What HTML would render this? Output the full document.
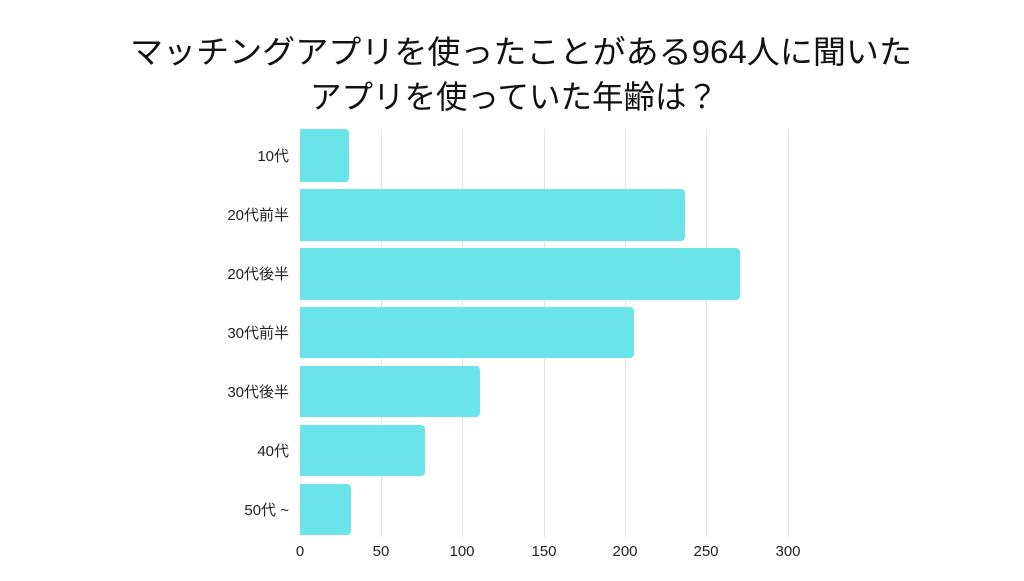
<!DOCTYPE html>
<html><head><meta charset="utf-8"><style>
body{margin:0;background:#fff;}
svg text{font-family:"Liberation Sans","Noto Sans CJK JP",sans-serif;}
</style></head><body>
<svg width="1024" height="576" viewBox="0 0 1024 576" xmlns="http://www.w3.org/2000/svg">
<rect width="1024" height="576" fill="#fff"/>
<text x="130" y="63" font-size="32" textLength="782" lengthAdjust="spacingAndGlyphs" fill="#111">マッチングアプリを使ったことがある964人に聞いた</text>
<text x="310" y="108" font-size="32" textLength="408" lengthAdjust="spacingAndGlyphs" fill="#111">アプリを使っていた年齢は？</text>
<g stroke="#e3e3e3" stroke-width="1">
<line x1="381.5" y1="129" x2="381.5" y2="537"/>
<line x1="462.5" y1="129" x2="462.5" y2="537"/>
<line x1="544.5" y1="129" x2="544.5" y2="537"/>
<line x1="625.5" y1="129" x2="625.5" y2="537"/>
<line x1="706.5" y1="129" x2="706.5" y2="537"/>
<line x1="788.5" y1="129" x2="788.5" y2="537"/>
</g>
<g fill="#6ae4e8">
<path d="M300 129H345a4 4 0 0 1 4 4V178a4 4 0 0 1-4 4H300Z"/>
<path d="M300 189H681a4 4 0 0 1 4 4V237a4 4 0 0 1-4 4H300Z"/>
<path d="M300 248H736a4 4 0 0 1 4 4V296a4 4 0 0 1-4 4H300Z"/>
<path d="M300 307H630a4 4 0 0 1 4 4V354a4 4 0 0 1-4 4H300Z"/>
<path d="M300 366H476a4 4 0 0 1 4 4V413a4 4 0 0 1-4 4H300Z"/>
<path d="M300 425H421a4 4 0 0 1 4 4V472a4 4 0 0 1-4 4H300Z"/>
<path d="M300 484H347a4 4 0 0 1 4 4V531a4 4 0 0 1-4 4H300Z"/>
</g>
<g font-size="15" fill="#222" text-anchor="end">
<text x="289" y="161">10代</text>
<text x="289" y="220">20代前半</text>
<text x="289" y="279">20代後半</text>
<text x="289" y="338">30代前半</text>
<text x="289" y="397">30代後半</text>
<text x="289" y="456">40代</text>
<text x="289" y="515">50代 ~</text>
</g>
<g font-size="15" fill="#222" text-anchor="middle">
<text x="300" y="556">0</text>
<text x="381" y="556">50</text>
<text x="462" y="556">100</text>
<text x="544" y="556">150</text>
<text x="625" y="556">200</text>
<text x="706" y="556">250</text>
<text x="788" y="556">300</text>
</g>
</svg>
</body></html>
